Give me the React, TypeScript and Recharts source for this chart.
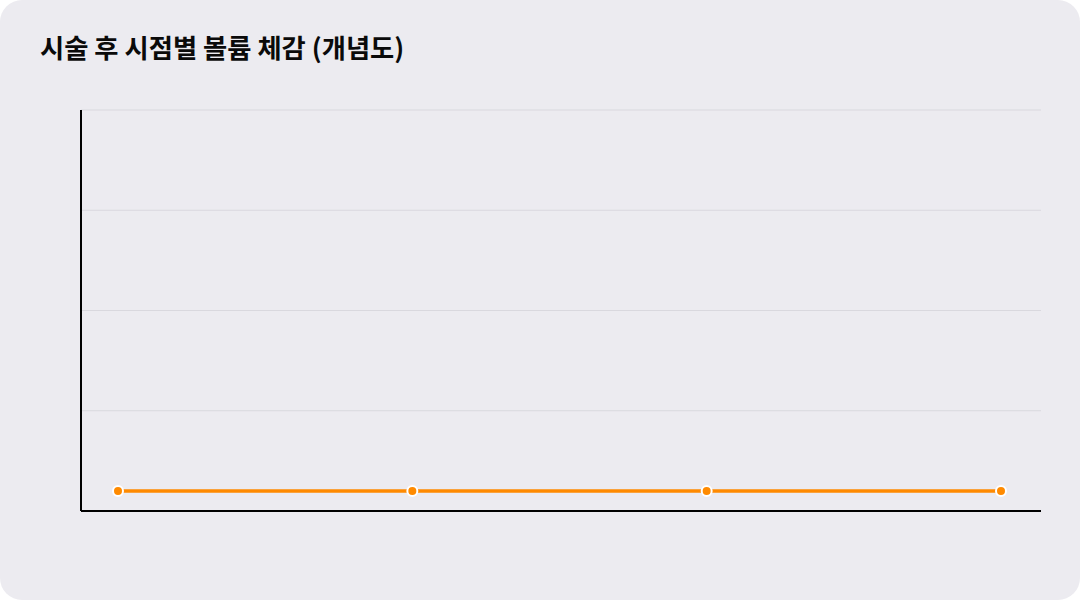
import React from "react";
import { LineChart, Line, XAxis, YAxis, CartesianGrid } from "recharts";

const categories = ["시술 직후", "1개월", "3개월", "6개월"];
const volumeValues = [5, 5, 5, 5];
const yTicks = [0, 25, 50, 75, 100];
const titleText = "시술 후 시점별 볼륨 체감 (개념도)";

const data = categories.map((name, i) => ({ name, volume: volumeValues[i] }));

const NoTick = () => <g />;

export default function App() {
  return (
    <div
      style={{
        position: "absolute",
        left: 0,
        top: 0,
        width: 1080,
        height: 600,
        background: "#ECEBF0",
        borderRadius: 22,
        overflow: "hidden",
        fontFamily: '"Noto Sans CJK KR", "Noto Sans", sans-serif',
      }}
    >
      <div
        style={{
          position: "absolute",
          left: 40,
          top: 30,
          fontSize: 26.3,
          fontWeight: 700,
          color: "#0A0A0A",
          lineHeight: "34px",
          whiteSpace: "nowrap",
        }}
      >
        {titleText}
      </div>
      <div style={{ position: "absolute", left: 0, top: 0 }}>
        <LineChart
          width={1080}
          height={600}
          data={data}
          margin={{ top: 110, right: 39, bottom: 69, left: 61 }}
        >
          <CartesianGrid vertical={false} stroke="#D9D8DE" strokeWidth={1} />
          <XAxis
            dataKey="name"
            tick={NoTick}
            tickLine={false}
            height={20}
            padding={{ left: 37, right: 40 }}
            axisLine={{ stroke: "#000000", strokeWidth: 2 }}
          />
          <YAxis
            domain={[0, 100]}
            ticks={yTicks}
            tick={NoTick}
            tickLine={false}
            width={20}
            axisLine={{ stroke: "#000000", strokeWidth: 2 }}
          />
          <Line
            type="linear"
            dataKey="volume"
            stroke="#FF8A00"
            strokeWidth={3.5}
            dot={{ r: 5, fill: "#FF8A00", stroke: "#FFFFFF", strokeWidth: 2 }}
            activeDot={false}
            isAnimationActive={false}
          />
        </LineChart>
      </div>
    </div>
  );
}
